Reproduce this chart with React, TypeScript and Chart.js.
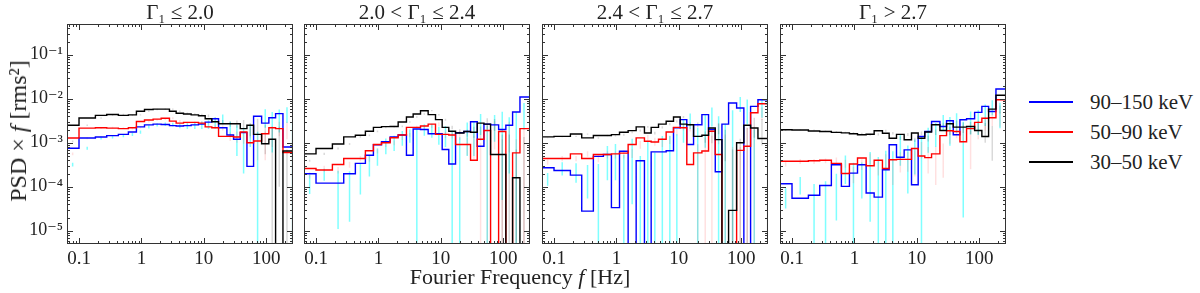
import React, { useEffect, useRef } from 'react';
import { Chart, registerables } from 'chart.js';

Chart.register(...registerables);

// ---------- data ----------
const binEdges = [0.0625, 0.1, 0.183, 0.278, 0.427, 0.618, 0.831, 1.12, 1.54, 2.07, 2.81, 3.6, 4.72, 6.26, 8.21, 10.5, 13.4, 17.2, 23.4, 29.9, 38.3, 49.0, 62.6, 84.2, 110, 141, 185, 249, 280];

const xTicks = [0.1, 1, 10, 100];
const xTickLabels = ['0.1', '1', '10', '100'];
const yTicks = [1e-5, 1e-4, 1e-3, 1e-2, 1e-1];
const yTickLabels = ['10\u207B\u2075', '10\u207B\u2074', '10\u207B\u00B3', '10\u207B\u00B2', '10\u207B\u00B9'];

const panelTitles = ['\u0393\u2081 \u2264 2.0', '2.0 < \u0393\u2081 \u2264 2.4', '2.4 < \u0393\u2081 \u2264 2.7', '\u0393\u2081 > 2.7'];
const seriesLabels = ['90\u2013150 keV', '50\u201390 keV', '30\u201350 keV'];

// Panel 1: Gamma1 <= 2.0
const p1Blue = [3.2e-4, 7.5e-4, 1.28e-3, 1.35e-3, 1.45e-3, 1.55e-3, 1.75e-3, 2.3e-3, 2.55e-3, 2.65e-3, 2.6e-3, 2.45e-3, 2.4e-3, 2.45e-3, 2.55e-3, 2.65e-3, 2.95e-3, 3.5e-3, 2.2e-3, 1.5e-3, 1.2e-3, 1.7e-3, 2.9e-4, 4.0e-3, 2.8e-3, 3.7e-3, 4.6e-3, 8e-4];
const p1BlueErr = [3e-5, 6e-5, 1e-4, 1e-4, 1.2e-4, 1.3e-4, 1.5e-4, 2e-4, 2.2e-4, 2.4e-4, 2.6e-4, 3e-4, 3.5e-4, 4e-4, 5e-4, 6e-4, 8e-4, 9e-4, 8e-4, 1.0e-3, 1.0e-3, 9e-4, 1.5e-3, 1.8e-3, 2.2e-3, 2.0e-3, 1.8e-3, 2.0e-3];
const p1Red = [5.6e-4, 1.28e-3, 2.15e-3, 2.2e-3, 2.15e-3, 2.1e-3, 2.2e-3, 3.05e-3, 3.3e-3, 3.45e-3, 3.6e-3, 3.1e-3, 2.8e-3, 2.9e-3, 2.9e-3, 2.8e-3, 2.3e-3, 2.2e-3, 1.4e-3, 1.4e-3, 1.35e-3, 1.75e-3, 1.0e-3, 1.1e-3, 1.6e-3, 2.2e-3, 2.1e-3, 6e-4];
const p1RedErr = [4e-5, 8e-5, 1e-4, 1e-4, 1e-4, 1e-4, 1e-4, 1.5e-4, 1.5e-4, 1.5e-4, 1.8e-4, 1.8e-4, 2e-4, 2e-4, 2e-4, 2.5e-4, 2.5e-4, 3e-4, 3e-4, 4e-4, 4e-4, 5e-4, 6e-4, 7e-4, 8e-4, 8e-4, 9e-4, 1e-3];
const p1Black = [1.08e-3, 2.5e-3, 3.65e-3, 4.2e-3, 4.4e-3, 4.2e-3, 4.3e-3, 5.2e-3, 5.7e-3, 5.8e-3, 5.8e-3, 5.2e-3, 4.7e-3, 4.5e-3, 4.3e-3, 4.1e-3, 3.5e-3, 3.0e-3, 2.7e-3, 2.7e-3, 2.7e-3, 2.1e-3, 2.5e-3, 1.55e-3, 9.5e-4, 1.2e-3, -5e-4, 6.5e-4];
const p1BlackErr = [5e-5, 1e-4, 1.5e-4, 1.5e-4, 1.5e-4, 1.5e-4, 1.5e-4, 2e-4, 2e-4, 2e-4, 2e-4, 2e-4, 2e-4, 2e-4, 2.5e-4, 3e-4, 3e-4, 3e-4, 4e-4, 5e-4, 6e-4, 7e-4, 1.0e-3, 1.0e-3, 1.2e-3, 1.1e-3, 1.2e-3, 1.2e-3];

// Panel 2: 2.0 < Gamma1 <= 2.4
const p2Blue = [1.28e-4, 1.97e-4, 1.21e-4, 1.21e-4, 1.97e-4, 3.4e-4, 5.2e-4, 9.0e-4, 1.05e-3, 1.36e-3, 1.5e-3, 5.2e-4, 2.05e-3, 2.0e-3, 1.6e-3, 1.6e-3, 7.0e-4, 3.3e-4, 1.7e-3, 1.8e-3, 3.0e-3, 8.3e-4, 2.65e-3, 2.55e-3, 2.0e-3, 2.5e-3, 5.0e-3, 1.1e-2];
const p2BlueErr = [6e-5, 6e-5, 1.1e-4, 1.05e-4, 1.3e-4, 1.7e-4, 2.2e-4, 3.5e-4, 4e-4, 5e-4, 5e-4, 1.5e-3, 6e-4, 7e-4, 7e-4, 8e-4, 1.2e-3, 1.0e-3, 1.2e-3, 1.3e-3, 1.5e-3, 1.6e-3, 1.6e-3, 2.5e-3, 1.8e-3, 2.5e-3, 3e-3, 4e-3];
const p2Red = [1.84e-4, 2.6e-4, 2.4e-4, 3.2e-4, 4.4e-4, 4.4e-4, 6.6e-4, 9.1e-4, 1.0e-3, 1.3e-3, 1.5e-3, 2.24e-3, 2.24e-3, 2.4e-3, 2.65e-3, 1.55e-3, 1.55e-3, 1.5e-3, 9.1e-4, 9.1e-4, 4.0e-4, 1.2e-3, 1.9e-3, -3e-4, 1.8e-3, -3e-4, 5.9e-4, 2.1e-3];
const p2RedErr = [3e-5, 4e-5, 4e-5, 5e-5, 6e-5, 7e-5, 9e-5, 1.1e-4, 1.2e-4, 1.4e-4, 1.6e-4, 2e-4, 2.2e-4, 2.4e-4, 2.6e-4, 2.6e-4, 3e-4, 3.5e-4, 4e-4, 5e-4, 6e-4, 1.5e-3, 1.2e-3, 1.5e-3, 1.2e-3, 1.5e-3, 1.5e-3, 1.5e-3];
const p2Black = [3.9e-4, 5.6e-4, 7.4e-4, 9.4e-4, 1.36e-3, 1.48e-3, 1.82e-3, 2.24e-3, 2.32e-3, 2.35e-3, 2.96e-3, 3.85e-3, 4.5e-3, 5.35e-3, 4.35e-3, 3.35e-3, 2.24e-3, 1.82e-3, 1.67e-3, 1.8e-3, 1.73e-3, 2.8e-3, 2.65e-3, 5.4e-4, 5.4e-4, -3e-4, 1.6e-4, -3e-4];
const p2BlackErr = [2e-5, 3e-5, 4e-5, 5e-5, 6e-5, 7e-5, 8e-5, 1e-4, 1e-4, 1.1e-4, 1.2e-4, 1.4e-4, 1.6e-4, 1.8e-4, 1.8e-4, 1.8e-4, 2e-4, 2.2e-4, 3e-4, 5e-4, 6e-4, 8e-4, 8e-4, 1e-3, 1e-3, 1e-3, 1.2e-3, 1.2e-3];

// Panel 3: 2.4 < Gamma1 <= 2.7
const p3Blue = [1.55e-4, 2.7e-4, 2.34e-4, 1.84e-4, 2.8e-5, 4.9e-4, 5.4e-4, 3.35e-5, 6.4e-4, -3e-4, 3.9e-4, -3e-4, 6.2e-4, 6.2e-4, 6.6e-4, 2.2e-3, 3.35e-3, 9.1e-4, 2.57e-3, 4.35e-3, 2.0e-3, 2.2e-4, 2.65e-3, 8.0e-3, 6.15e-3, -2e-3, 6.7e-3, 9.5e-3];
const p3BlueErr = [5e-5, 9e-5, 1.1e-4, 1.3e-4, 3e-4, 3.5e-4, 4e-4, 5e-4, 6e-4, 8e-4, 7e-4, 9e-4, 8e-4, 8e-4, 9e-4, 1.2e-3, 1.3e-3, 1.3e-3, 1.8e-3, 2e-3, 2e-3, 2.5e-3, 2.8e-3, 3e-3, 3.5e-3, 4e-3, 3e-3, 3e-3];
const p3Red = [3.65e-4, 4.4e-4, 4.4e-4, 5.6e-4, 4.4e-4, 5.4e-4, 5.4e-4, 5.6e-4, 5.8e-4, 9.1e-4, 1.29e-3, 1.08e-3, 1.04e-3, 1.2e-3, 1.76e-3, 2.24e-3, 2.2e-3, 3.2e-4, 5.9e-4, 6.5e-4, 1.82e-3, 5.4e-4, -4e-4, -4e-4, 6.7e-4, 8.3e-4, 4.8e-3, 7.7e-3];
const p3RedErr = [5e-5, 6e-5, 6e-5, 8e-5, 8e-5, 1e-4, 1e-4, 1.2e-4, 1.3e-4, 1.8e-4, 2.2e-4, 2.2e-4, 2.4e-4, 2.6e-4, 3e-4, 3.5e-4, 4e-4, 6e-4, 7e-4, 8e-4, 9e-4, 1e-3, 1.2e-3, 1.2e-3, 1.5e-3, 1.5e-3, 1.5e-3, 1.5e-3];
const p3Black = [1.29e-3, 1.36e-3, 1.4e-3, 1.58e-3, 1.29e-3, 1.46e-3, 1.46e-3, 1.53e-3, 1.73e-3, 1.89e-3, 2.29e-3, 1.67e-3, 2.24e-3, 2.65e-3, 3.07e-3, 3.85e-3, 2.65e-3, 2.57e-3, 1.4e-3, 1.48e-3, 2.17e-3, 1.18e-3, -3e-4, 2.9e-5, 1.0e-3, 2.5e-3, 2.17e-3, 1.25e-3];
const p3BlackErr = [3e-5, 3e-5, 4e-5, 5e-5, 5e-5, 6e-5, 7e-5, 8e-5, 9e-5, 1e-4, 1.1e-4, 1.2e-4, 1.4e-4, 1.6e-4, 1.8e-4, 2e-4, 2.5e-4, 3e-4, 4e-4, 5e-4, 6e-4, 8e-4, 1e-3, 1.2e-3, 1.2e-3, 1.2e-3, 1.3e-3, 1.3e-3];

// Panel 4: Gamma1 > 2.7
const p4Blue = [6.2e-5, 1.17e-4, 5.5e-5, 6.4e-5, 1.07e-4, 3.16e-4, 1.02e-4, 2.04e-4, 3.16e-4, 7.2e-5, 5.8e-5, 2.43e-4, 9.0e-4, 4.7e-4, 6.9e-4, 1.11e-4, 1.39e-3, 1.8e-3, 3.05e-3, 2.35e-3, 3.16e-3, 1.52e-3, 3.34e-3, 3.5e-3, 4.9e-3, 6.7e-3, 5.15e-3, 1.66e-2];
const p4BlueErr = [3e-5, 5e-5, 6e-5, 7e-5, 9e-5, 2e-4, 2.5e-4, 1.5e-4, 3e-4, 4e-4, 6e-4, 4e-4, 6e-4, 4e-4, 5e-4, 1.3e-3, 8e-4, 1e-3, 1.2e-3, 1.5e-3, 1.5e-3, 1.5e-3, 1.8e-3, 2e-3, 2.5e-3, 2.5e-3, 3e-3, 5e-3];
const p4Red = [3.3e-4, 3.8e-4, 3.8e-4, 3.9e-4, 4.0e-4, 3.4e-4, 2.0e-4, 3.3e-4, 4.5e-4, 3.0e-4, 4.0e-4, 2.6e-4, 4.1e-4, 4.2e-4, 4.2e-4, 7.4e-4, 5.0e-4, 4.6e-4, 5.6e-4, 1.45e-3, 1.87e-3, 1.8e-3, 1.05e-3, 2.1e-3, 2.9e-3, 3.6e-3, 3.7e-3, 9.5e-3];
const p4RedErr = [4e-5, 5e-5, 5e-5, 5e-5, 6e-5, 7e-5, 8e-5, 9e-5, 1.2e-4, 1.2e-4, 1.5e-4, 1.5e-4, 2e-4, 2e-4, 2.5e-4, 3e-4, 3e-4, 3.5e-4, 4e-4, 5e-4, 6e-4, 7e-4, 8e-4, 9e-4, 1e-3, 1.2e-3, 1.4e-3, 2e-3];
const p4Black = [1.9e-3, 1.97e-3, 1.95e-3, 1.85e-3, 1.8e-3, 1.72e-3, 1.68e-3, 1.6e-3, 1.52e-3, 1.56e-3, 1.88e-3, 1.65e-3, 1.27e-3, 1.55e-3, 1.17e-3, 1.66e-3, 1.27e-3, 1.75e-3, 2.56e-3, 1.9e-3, 2.7e-3, 2.27e-3, 2.27e-3, 2.35e-3, 1.9e-3, 1.39e-3, 5.8e-3, 1.2e-2];
const p4BlackErr = [5e-5, 5e-5, 5e-5, 6e-5, 6e-5, 7e-5, 7e-5, 8e-5, 8e-5, 9e-5, 1e-4, 1e-4, 1.1e-4, 1.2e-4, 1.3e-4, 1.5e-4, 2e-4, 2.5e-4, 3e-4, 4e-4, 5e-4, 6e-4, 7e-4, 8e-4, 9e-4, 1e-3, 1.2e-3, 1.5e-3];

const blueSets = [p1Blue, p2Blue, p3Blue, p4Blue];
const blueErrSets = [p1BlueErr, p2BlueErr, p3BlueErr, p4BlueErr];
const redSets = [p1Red, p2Red, p3Red, p4Red];
const redErrSets = [p1RedErr, p2RedErr, p3RedErr, p4RedErr];
const blackSets = [p1Black, p2Black, p3Black, p4Black];
const blackErrSets = [p1BlackErr, p2BlackErr, p3BlackErr, p4BlackErr];

// ---------- styling / layout ----------
const X_MIN = 0.0642;
const X_MAX = 268;
const Y_MIN = 5e-6;
const Y_MAX = 0.5;
const PANEL_LEFTS = [67, 304, 542, 780];
const PLOT_W = 226;
const PLOT_TOP = 24;
const PLOT_BOTTOM = 244;
const Y_AXIS_W = 67;
const H = 293;
const FONT = '"Liberation Serif", "DejaVu Serif", serif';
const BLUE = '#0000ff';
const RED = '#ff0000';
const BLACK = '#000000';
const CYAN = 'rgba(0,255,255,0.5)';
const PINK = 'rgba(255,0,0,0.12)';
const GREY = 'rgba(0,0,0,0.15)';
const FLOOR = 1e-9;

const disp = (v: number) => (v > 0 ? v : FLOOR);

function stepPoints(vals: number[]) {
  return binEdges.map((e, i) => ({ x: e, y: disp(vals[Math.min(i, vals.length - 1)]) }));
}

function errPoints(vals: number[], errs: number[]) {
  const pts: { x: number; y: number | null }[] = [];
  vals.forEach((v, i) => {
    const c = Math.sqrt(binEdges[i] * binEdges[i + 1]);
    const hi = v + errs[i];
    if (hi <= 0) return;
    pts.push({ x: c, y: disp(v - errs[i]) }, { x: c, y: hi }, { x: c, y: null });
  });
  return pts;
}

const framePlugin = {
  id: 'frameTicks',
  afterDatasetsDraw(chart: any, _args: any, opts: any) {
    const { ctx, chartArea: a, scales } = chart;
    const xs = scales.x;
    const ys = scales.y;
    ctx.save();
    ctx.strokeStyle = '#333333';
    ctx.lineWidth = 1;
    ctx.beginPath();
    for (let n = -2; n <= 3; n++) {
      for (let k = 1; k <= 9; k++) {
        const v = k * Math.pow(10, n);
        if (v < X_MIN || v > X_MAX) continue;
        const px = Math.round(xs.getPixelForValue(v)) + 0.5;
        const len = k === 1 ? 6 : 3;
        ctx.moveTo(px, a.bottom);
        ctx.lineTo(px, a.bottom - len);
        ctx.moveTo(px, a.top);
        ctx.lineTo(px, a.top + len);
      }
    }
    for (let n = -6; n <= 0; n++) {
      for (let k = 1; k <= 9; k++) {
        const v = k * Math.pow(10, n);
        if (v < Y_MIN || v > Y_MAX) continue;
        const py = Math.round(ys.getPixelForValue(v)) + 0.5;
        const len = k === 1 ? 6 : 3;
        ctx.moveTo(a.left, py);
        ctx.lineTo(a.left + len, py);
        ctx.moveTo(a.right, py);
        ctx.lineTo(a.right - len, py);
      }
    }
    ctx.stroke();
    ctx.strokeRect(a.left + 0.5, a.top + 0.5, a.right - a.left - 1, a.bottom - a.top - 1);
    ctx.fillStyle = '#222222';
    ctx.font = `21px ${FONT}`;
    ctx.textAlign = 'center';
    ctx.textBaseline = 'alphabetic';
    ctx.fillText(opts.title, (a.left + a.right) / 2, 19);
    ctx.restore();
  },
};

function Panel({ index }: { index: number }) {
  const ref = useRef<HTMLCanvasElement>(null);
  const first = index === 0;
  const padL = first ? Y_AXIS_W : 6;
  const padR = 6;
  const canvasLeft = PANEL_LEFTS[index] - padL;
  const width = padL + PLOT_W + padR;

  useEffect(() => {
    if (!ref.current) return;
    const line = (data: any, color: string, w: number, stepped: any) => ({
      data,
      borderColor: color,
      backgroundColor: color,
      borderWidth: w,
      pointRadius: 0,
      fill: false,
      tension: 0,
      stepped,
      spanGaps: false,
    });
    const chart = new Chart(ref.current, {
      type: 'line',
      data: {
        datasets: [
          line(stepPoints(blackSets[index]), BLACK, 1.4, 'after'),
          line(stepPoints(redSets[index]), RED, 1.4, 'after'),
          line(stepPoints(blueSets[index]), BLUE, 1.4, 'after'),
          line(errPoints(blackSets[index], blackErrSets[index]), GREY, 1.5, false),
          line(errPoints(redSets[index], redErrSets[index]), PINK, 1.5, false),
          line(errPoints(blueSets[index], blueErrSets[index]), CYAN, 1.5, false),
        ] as any,
      },
      options: {
        animation: false,
        responsive: false,
        events: [],
        layout: { padding: { left: first ? 0 : padL, right: padR, top: PLOT_TOP, bottom: 0 } },
        plugins: {
          legend: { display: false },
          tooltip: { enabled: false },
          title: { display: false },
          frameTicks: { title: panelTitles[index] },
        } as any,
        scales: {
          x: {
            type: 'logarithmic',
            min: X_MIN,
            max: X_MAX,
            grid: { display: false, drawTicks: false },
            border: { display: false },
            afterBuildTicks: (s: any) => {
              s.ticks = xTicks.map((v) => ({ value: v }));
            },
            afterFit: (s: any) => {
              s.height = H - PLOT_BOTTOM;
              s.paddingLeft = 0;
              s.paddingRight = 0;
            },
            ticks: {
              autoSkip: false,
              maxRotation: 0,
              padding: 4,
              color: '#222222',
              font: { family: FONT, size: 19 },
              callback: (v: any) => {
                const i = xTicks.indexOf(Number(v));
                return i >= 0 ? xTickLabels[i] : '';
              },
            },
          },
          y: {
            type: 'logarithmic',
            display: first,
            min: Y_MIN,
            max: Y_MAX,
            grid: { display: false, drawTicks: false },
            border: { display: false },
            afterBuildTicks: (s: any) => {
              s.ticks = yTicks.map((v) => ({ value: v }));
            },
            afterFit: (s: any) => {
              s.width = first ? Y_AXIS_W : 0;
              s.paddingTop = 0;
              s.paddingBottom = 0;
            },
            ticks: {
              autoSkip: false,
              padding: 4,
              color: '#222222',
              font: { family: FONT, size: 18 },
              callback: (v: any) => {
                const i = yTicks.indexOf(Number(v));
                return i >= 0 ? yTickLabels[i] : '';
              },
            },
          },
        } as any,
      },
      plugins: [framePlugin as any],
    });
    return () => chart.destroy();
  }, [index]);

  return (
    <canvas
      ref={ref}
      width={width}
      height={H}
      style={{ position: 'absolute', left: canvasLeft, top: 0, width, height: H }}
    />
  );
}

const legendColors = [BLUE, RED, BLACK];
const legendRowsY = [101.5, 131.5, 161.5];

export default function App() {
  return (
    <div
      style={{
        position: 'fixed',
        left: 0,
        top: 0,
        width: 1200,
        height: H,
        background: '#ffffff',
        overflow: 'hidden',
        fontFamily: FONT,
        color: '#222222',
      }}
    >
      {[0, 1, 2, 3].map((i) => (
        <Panel key={i} index={i} />
      ))}
      <div
        style={{
          position: 'absolute',
          left: 18,
          top: 131,
          transform: 'translate(-50%, -50%) rotate(-90deg)',
          whiteSpace: 'nowrap',
          fontSize: 24,
          lineHeight: '24px',
        }}
      >
        PSD × <i>f</i> [rms²]
      </div>
      <div
        style={{
          position: 'absolute',
          left: 520,
          top: 277,
          transform: 'translate(-50%, -50%)',
          whiteSpace: 'nowrap',
          fontSize: 22,
          lineHeight: '22px',
        }}
      >
        Fourier Frequency <i>f</i> [Hz]
      </div>
      {seriesLabels.map((lab, i) => (
        <React.Fragment key={lab}>
          <div
            style={{
              position: 'absolute',
              left: 1029,
              top: legendRowsY[i] - 1,
              width: 44,
              height: 2,
              background: legendColors[i],
            }}
          />
          <div
            style={{
              position: 'absolute',
              left: 1090,
              top: legendRowsY[i],
              transform: 'translateY(-50%)',
              whiteSpace: 'nowrap',
              fontSize: 21,
              lineHeight: '21px',
            }}
          >
            {lab}
          </div>
        </React.Fragment>
      ))}
    </div>
  );
}
